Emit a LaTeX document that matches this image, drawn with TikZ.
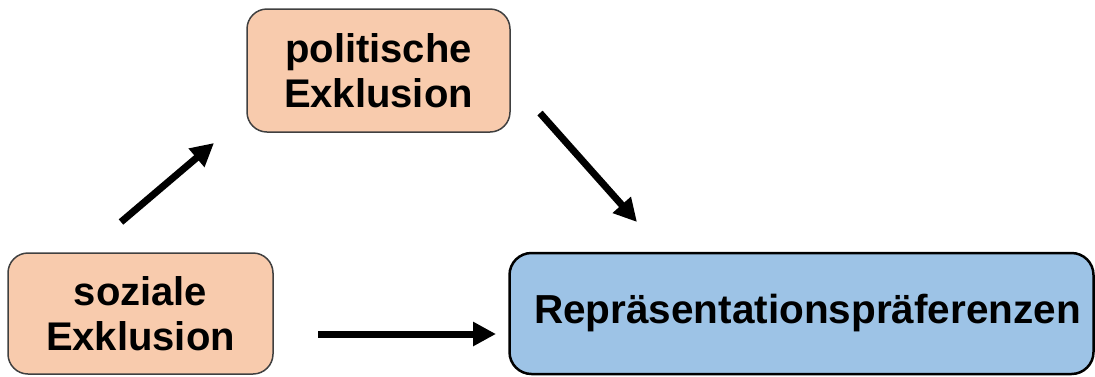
\documentclass[tikz,border=0pt]{standalone}
\usepackage{fontspec}
\setmainfont{Liberation Sans}
\usetikzlibrary{arrows.meta}
\definecolor{boxorange}{HTML}{F8CBAD}
\definecolor{boxblue}{HTML}{9DC3E6}
\definecolor{boxedge}{HTML}{404040}
\tikzset{
  orangebox/.style={draw=boxedge, line width=1.5pt, fill=boxorange, rounded corners=20pt,
    align=center, font=\fontsize{40}{45}\selectfont\bfseries, inner sep=0pt},
  bluebox/.style={draw=black, line width=2.5pt, fill=boxblue, rounded corners=22pt,
    align=center, font=\fontsize{40.5}{45}\selectfont\bfseries, inner sep=0pt},
  bigarrow/.style={line width=7pt, -{Triangle[length=23pt,width=23pt]}}
}
\begin{document}
\begin{tikzpicture}[x=1pt,y=-1pt]
\useasboundingbox (0,0) rectangle (1095,376);
\node[orangebox, minimum width=263pt, minimum height=123pt] (pol) at (378.5,70.5) {politische\\Exklusion};
\node[orangebox, minimum width=265pt, minimum height=121pt] (soz) at (140.5,313.5) {soziale\\Exklusion};
\node[bluebox, minimum width=584pt, minimum height=121pt] (rep) at (801.5,313.5) {\hspace*{12pt}Repräsentationspräferenzen};
\coordinate (a1s) at (121,222);
\coordinate (a1e) at (214,143);
\coordinate (a2s) at (540,113);
\coordinate (a2e) at (637,222);
\coordinate (a3s) at (318,334);
\coordinate (a3e) at (496,334);
\draw[bigarrow] (a1s) -- (a1e);
\draw[bigarrow] (a2s) -- (a2e);
\draw[bigarrow] (a3s) -- (a3e);
\end{tikzpicture}
\end{document}
